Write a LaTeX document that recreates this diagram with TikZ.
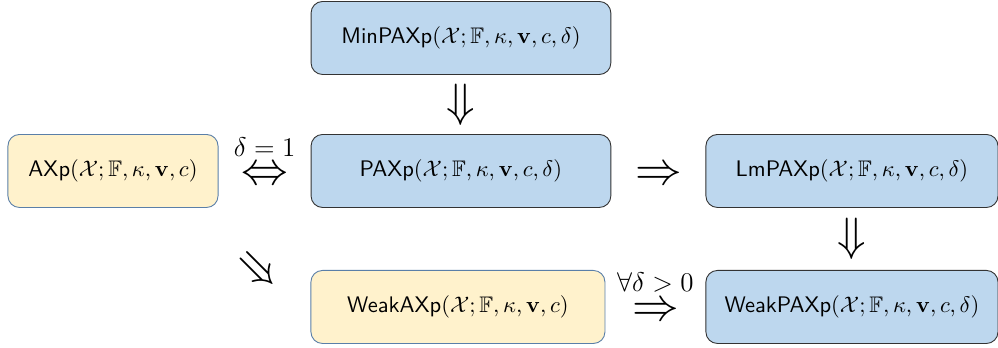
\documentclass[tikz,border=0pt]{standalone}
\usepackage{amsmath,amssymb}
\usetikzlibrary{positioning}

\definecolor{boxblue}{HTML}{BDD7EE}
\definecolor{boxyellow}{HTML}{FFF2CC}
\definecolor{yellowedge}{HTML}{5A7FA8}

\begin{document}
\begin{tikzpicture}[main node/.style={rectangle,rounded corners=0.18cm,draw=black!80,fill=boxblue,minimum height=1.14cm,font=\sffamily},weak node/.style={main node,draw=yellowedge,fill=boxyellow},imp/.style={font=\huge,inner sep=0pt},side imp/.style={imp,yshift=-0.07cm},lbl/.style={font=\large,inner sep=0pt}]

	\useasboundingbox (0,0) rectangle (15.58,-5.43);

	%nodes
	\node[main node, minimum width=4.68cm] (MinPAXp) at (7.196,-0.593) {MinPAXp$(\mathcal{X};\mathbb{F},\kappa,\mathbf{v},c,\delta)$};
	\node[main node, minimum width=4.68cm] (PAXp) at (7.196,-2.669) {PAXp$(\mathcal{X};\mathbb{F},\kappa,\mathbf{v},c,\delta)$};
	\node[weak node, minimum width=3.28cm] (AXp) at (1.764,-2.669) {AXp$(\mathcal{X};\mathbb{F},\kappa,\mathbf{v},c)$};
	\node[main node, minimum width=4.56cm] (LmPAXp) at (13.30,-2.669) {LmPAXp$(\mathcal{X};\mathbb{F},\kappa,\mathbf{v},c,\delta)$};
	\node[weak node, minimum width=4.59cm] (WeakAXp) at (7.149,-4.792) {WeakAXp$(\mathcal{X};\mathbb{F},\kappa,\mathbf{v},c)$};
	\node[main node, minimum width=4.56cm] (WeakPAXp) at (13.30,-4.792) {WeakPAXp$(\mathcal{X};\mathbb{F},\kappa,\mathbf{v},c,\delta)$};

	%implications between the boxes
	\path
		(MinPAXp) -- node[imp] {$\Downarrow$} (PAXp)
		(AXp) -- node[side imp, label={[lbl, label distance=0.15cm]above:$\delta=1$}] {$\Leftrightarrow$} (PAXp)
		(PAXp) -- node[side imp] {$\Rightarrow$} (LmPAXp)
		(LmPAXp) -- node[imp] {$\Downarrow$} (WeakPAXp)
		(WeakAXp) -- node[side imp, label={[lbl, label distance=0.15cm]above:$\forall\delta>0$}] {$\Rightarrow$} (WeakPAXp);
	%weak implication off AXp
	\node[imp, rotate=-45] (AXpWeak) at (4.00,-4.24) {$\Rightarrow$};

\end{tikzpicture}
\end{document}
